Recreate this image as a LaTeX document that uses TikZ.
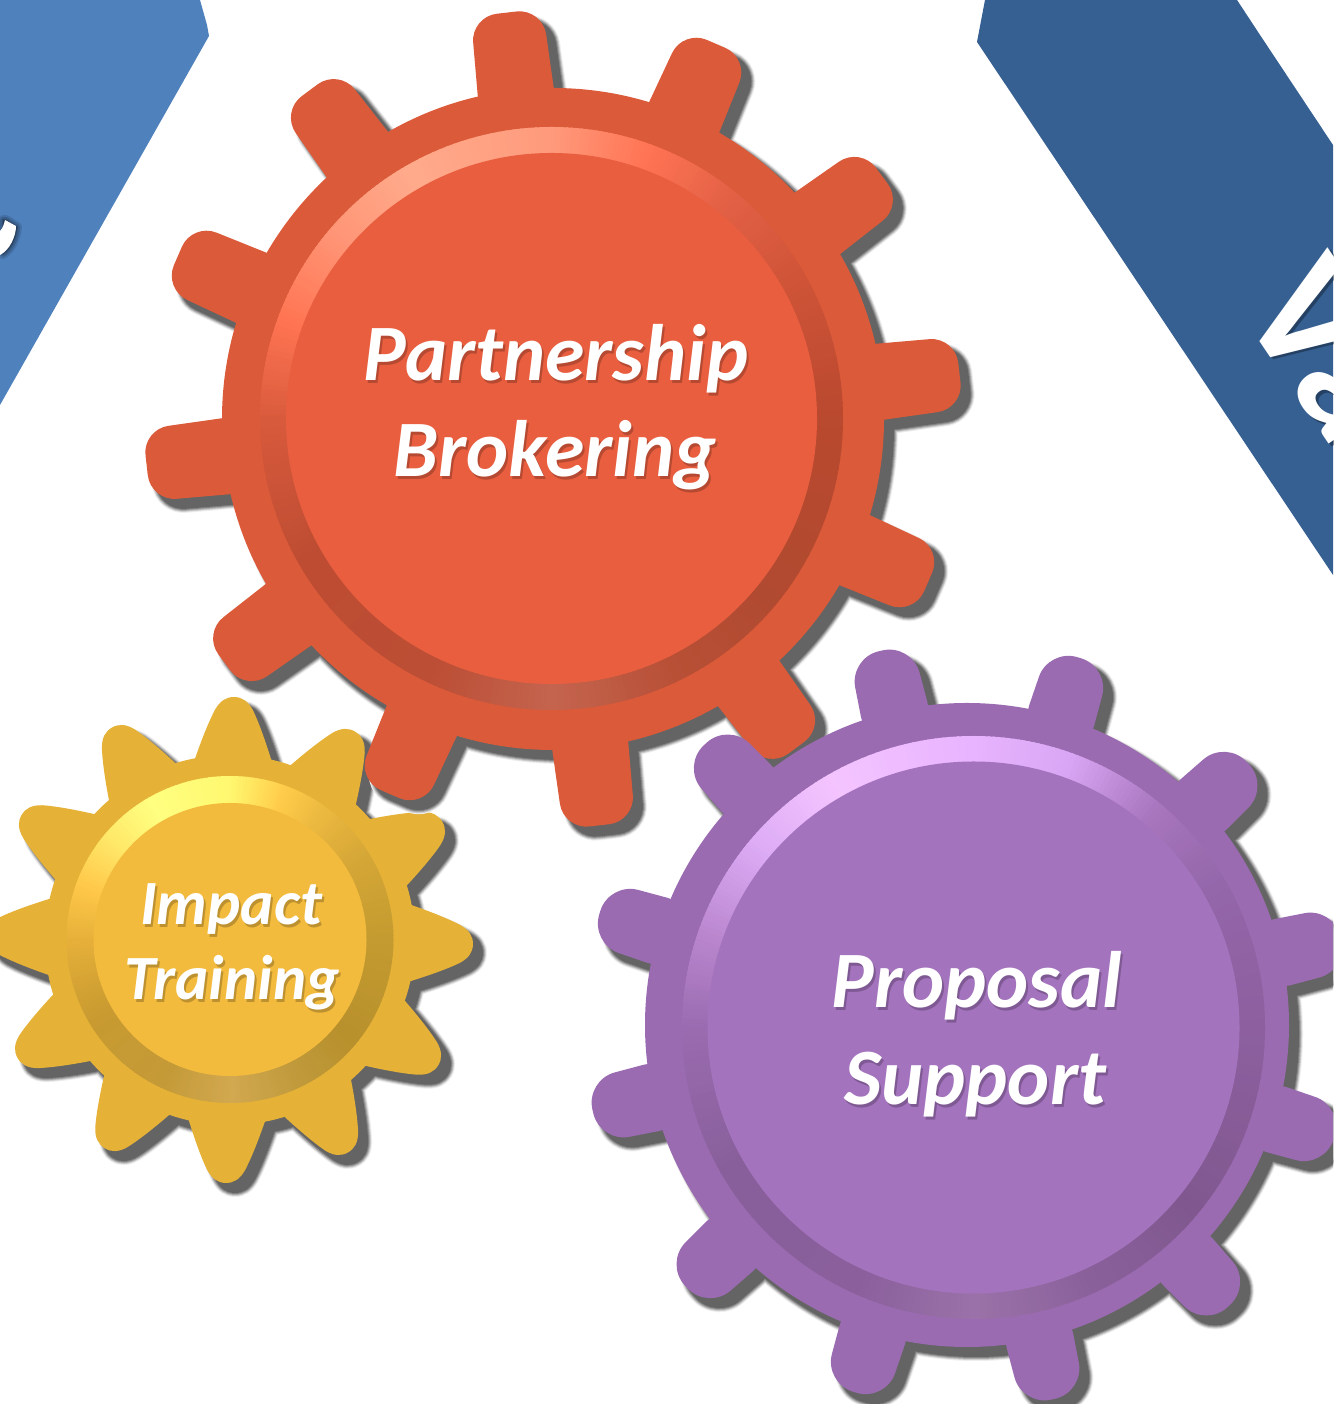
\documentclass[tikz,border=0pt]{standalone}
\usepackage{fontspec}
\setmainfont{Carlito}
\definecolor{bandL}{HTML}{4F81BD}
\definecolor{bandR}{HTML}{366092}
\definecolor{shA}{HTML}{EEEEEE}
\definecolor{shB}{HTML}{CECECE}
\definecolor{shC}{HTML}{A8A8A8}
\definecolor{shE}{HTML}{848484}
\definecolor{shD}{HTML}{646464}
\definecolor{gearY}{HTML}{E5B237}\definecolor{coreY}{HTML}{F3BB3D}
\definecolor{gearR}{HTML}{DB5A39}\definecolor{coreR}{HTML}{E85E3F}
\definecolor{gearP}{HTML}{9A6BB0}\definecolor{coreP}{HTML}{A473BD}
% red ring stops
\definecolor{r0}{HTML}{D85A3C}\definecolor{r1}{HTML}{FF7452}\definecolor{r2}{HTML}{FF9475}\definecolor{r3}{HTML}{FFAB8C}
\definecolor{r4}{HTML}{FF9A7C}\definecolor{r5}{HTML}{FF7454}\definecolor{r6}{HTML}{E26045}\definecolor{r7}{HTML}{D05438}
\definecolor{r8}{HTML}{B9492F}\definecolor{r9}{HTML}{B04A30}\definecolor{r10}{HTML}{B85036}\definecolor{r11}{HTML}{C4644F}
\definecolor{r12}{HTML}{BC4E35}\definecolor{r13}{HTML}{BD4C32}
% purple ring stops
\definecolor{p0}{HTML}{9A6BB0}\definecolor{p1}{HTML}{BB88D0}\definecolor{p2}{HTML}{DCABF5}\definecolor{p3}{HTML}{F4C4FF}
\definecolor{p4}{HTML}{E8B4FF}\definecolor{p5}{HTML}{D8A6F4}\definecolor{p6}{HTML}{A876BE}\definecolor{p7}{HTML}{9466AA}
\definecolor{p8}{HTML}{8D5F9F}\definecolor{p9}{HTML}{80588F}\definecolor{p10}{HTML}{8A609B}\definecolor{p11}{HTML}{9A72A8}
\definecolor{p12}{HTML}{8A5F9C}\definecolor{p13}{HTML}{885F9A}
% yellow ring stops
\definecolor{y0}{HTML}{E6B03A}\definecolor{y1}{HTML}{FFC84A}\definecolor{y2}{HTML}{FFE868}\definecolor{y3}{HTML}{FFFF80}
\definecolor{y4}{HTML}{FFF870}\definecolor{y5}{HTML}{FFCC4A}\definecolor{y6}{HTML}{E8B53E}\definecolor{y7}{HTML}{D4A636}
\definecolor{y8}{HTML}{C49B30}\definecolor{y9}{HTML}{B8902C}\definecolor{y10}{HTML}{C09A3C}\definecolor{y11}{HTML}{D2A850}
\definecolor{y12}{HTML}{C49A38}\definecolor{y13}{HTML}{C89A30}
\tikzset{
  lay/.style={fill=#1,draw=#1},
  gearlabel/.style={text=white,font=\bfseries\itshape,inner sep=0pt,anchor=base},
  gearshade/.style={text=black,font=\bfseries\itshape,inner sep=0pt,anchor=base,opacity=0.22},
  bandtext/.style={text=white,font=\bfseries,inner sep=0pt,anchor=base west,rotate=-56},
  bandshade/.style={text=black!70!bandR,font=\bfseries,inner sep=0pt,anchor=base west,rotate=-56,opacity=0.45}
}
\newcommand{\gearfill}[6]{%
  \begin{scope}[shift={(#2,#3)}]
    \path[#1] (0,0) circle[radius=#4];
    \foreach \k in {0,...,11}{%
      \pgfmathsetmacro\angT{#5+30*\k}
      \path[#1,rotate=\angT] #6;
    }
  \end{scope}}
\newcommand{\gearshadow}[5]{%
  \begin{scope}[xshift=9pt,yshift=-9pt]
    \gearfill{lay=shA,line width=10pt}{#1}{#2}{#3}{#4}{#5}
    \gearfill{lay=shB,line width=8pt}{#1}{#2}{#3}{#4}{#5}
    \gearfill{lay=shC,line width=6pt}{#1}{#2}{#3}{#4}{#5}
    \gearfill{lay=shE,line width=4pt}{#1}{#2}{#3}{#4}{#5}
    \gearfill{lay=shD,line width=2pt}{#1}{#2}{#3}{#4}{#5}
  \end{scope}}
\newcommand{\ringband}[6]{% cx cy Ro Ri prefix innercolour
  \begin{scope}[shift={(#1,#2)}]
    \foreach \angS/\angE/\ca/\cb in {180/160/0/1,160/140/1/2,140/120/2/3,120/90/3/4,90/70/4/5,70/50/5/6,50/30/6/7,30/0/7/8,0/-40/8/9,-40/-65/9/10,-65/-90/10/11,-90/-115/11/12,-115/-150/12/13,-150/-180/13/0}{%
      \foreach \stepn in {0,...,19}{%
        \pgfmathsetmacro\mixv{100*(\stepn+0.5)/20}
        \colorlet{seg}{#5\cb!\mixv!#5\ca}
        \pgfmathsetmacro\angA{\angS+(\angE-\angS)*\stepn/20+0.2}
        \pgfmathsetmacro\angD{(\angE-\angS)/20-0.4}
        \pgfmathsetmacro\angB{\angA+\angD}
        \fill[seg] (\angA:#3) arc[start angle=\angA,delta angle=\angD,radius=#3] -- (\angB:#4-2) arc[start angle=\angB,delta angle=-\angD,radius=#4-2] -- cycle;
      }
    }
    \fill[#6] (0,0) circle[radius=#4];
  \end{scope}}
\newcommand{\twolayer}[5]{% name x y size text
  \node[gearshade] at (#2+2,#3-2.5) {\fontsize{#4}{#4}\selectfont #5};
  \node[gearlabel] (#1) at (#2,#3) {\fontsize{#4}{#4}\selectfont #5};}
\newcommand{\toothY}{(175,-40) .. controls (200,-32) and (218,-25) .. (230,-19) .. controls (239,-14) and (243,-8) .. (243,0) .. controls (243,8) and (239,14) .. (230,19) .. controls (218,25) and (200,32) .. (175,40) -- cycle}
\newcommand{\toothR}{[rounded corners=26] (300,-39) -- (409,-36) -- (409,36) -- (300,39) -- cycle}
\newcommand{\toothP}{[rounded corners=30] (295,-35) -- (384,-32) -- (384,32) -- (295,35) -- cycle}
\begin{document}
\begin{tikzpicture}[x=1pt,y=1pt]
\useasboundingbox (0,0) rectangle (1333,1404);
\clip (0,0) rectangle (1333,1404);
\fill[white] (0,0) rectangle (1333,1404);
% blue bands
\fill[bandL] (0,1404) -- (200,1404) -- (207,1379) -- (209,1368) -- (0,999) -- cycle;
\fill[bandR] (985,1404) -- (1237,1404) -- (1260,1369) -- (1333,1259) -- (1333,829) -- (977,1362) -- cycle;
% left glyph fragment
\foreach \wd/\op in {10/0.2,6/0.3,2/0.4}{
  \path[fill=black!60!bandL,draw=black!60!bandL,line width=\wd pt,opacity=\op,line join=round]
   (3,1184) -- (6,1184) -- (17,1177) .. controls (16,1166) and (11,1155) .. (3,1150) -- cycle;
}
\path[fill=white] (0,1173) .. controls (3,1176) and (4,1180) .. (5,1184) -- (16,1178) .. controls (16,1168) and (10,1154) .. (0,1149) -- cycle;
% band text
\node[bandshade] at (1240,1093.5) {\fontsize{168}{168}\selectfont Va};
\node[bandtext] (bandword) at (1237,1096) {\fontsize{168}{168}\selectfont Va};
% yellow gear
\gearshadow{230}{464}{185}{89}{\toothY}
\gearfill{fill=gearY}{230}{464}{185}{89}{\toothY}
\ringband{230}{464.5}{163.5}{136.5}{y}{coreY}
\twolayer{impact}{231}{479}{63}{Impact}
\twolayer{training}{232}{404}{63}{Training}
% purple shadow, below the red gear
\gearshadow{967}{379}{322}{103}{\toothP}
% red gear
\gearshadow{553}{985}{331}{96.5}{\toothR}
\gearfill{fill=gearR}{553}{985}{331}{96.5}{\toothR}
\ringband{551.5}{985.5}{291.5}{265.5}{r}{coreR}
\twolayer{partnership}{556}{1023}{80}{Partnership}
\twolayer{brokering}{555}{927}{80}{Brokering}
% purple gear
\gearfill{fill=gearP}{967}{379}{322}{103}{\toothP}
\ringband{973.5}{376.5}{291.5}{266}{p}{coreP}
\twolayer{proposal}{977}{396}{80}{Proposal}
\twolayer{support}{975}{299}{80}{Support}
\end{tikzpicture}
\end{document}
